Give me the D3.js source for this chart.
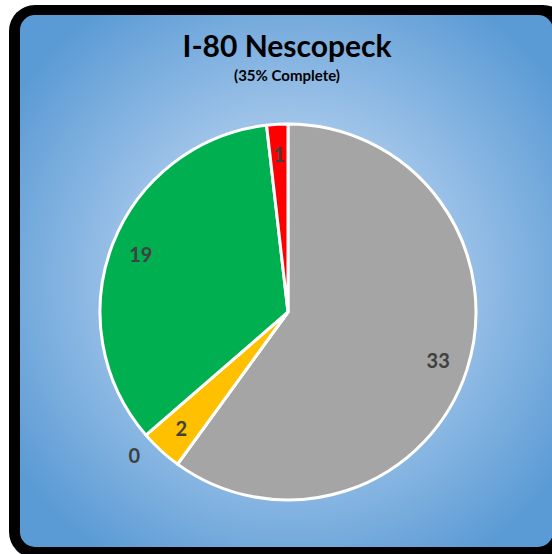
<!DOCTYPE html>
<html>
<head>
<meta charset="utf-8">
<script src="https://cdn.jsdelivr.net/npm/d3@7"></script>
<style>
  body { margin: 0; background: #ffffff; }
  svg { display: block; }
</style>
</head>
<body>
<script>
var categories = ["Not Started", "On Hold", "In Progress", "Complete", "Late"];
var values = [33, 0, 2, 19, 1];
var colors = ["#a5a5a5", "#5b9bd5", "#ffc000", "#00b050", "#ff0000"];

var width = 552;
var height = 554;

var svg = d3.select('body')
    .append('svg')
    .attr('width', width)
    .attr('height', height);

// background gradient
var defs = svg.append('defs');
var grad = defs.append('radialGradient')
    .attr('id', 'bg')
    .attr('gradientUnits', 'userSpaceOnUse')
    .attr('cx', 290)
    .attr('cy', 280)
    .attr('r', 330);
grad.append('stop').attr('offset', '0%').attr('stop-color', '#c9def3');
grad.append('stop').attr('offset', '45%').attr('stop-color', '#a3c6ea');
grad.append('stop').attr('offset', '100%').attr('stop-color', '#5b9bd5');

// frame (cropped at the right edge)
svg.append('rect')
    .attr('x', 9)
    .attr('y', 5)
    .attr('width', 560)
    .attr('height', 553)
    .attr('rx', 26)
    .attr('ry', 26)
    .attr('fill', '#000000');

svg.append('rect')
    .attr('x', 20)
    .attr('y', 15)
    .attr('width', 533)
    .attr('height', 532)
    .attr('rx', 15)
    .attr('ry', 15)
    .attr('fill', 'url(#bg)');

// titles
svg.append('text')
    .attr('x', 287)
    .attr('y', 57)
    .attr('text-anchor', 'middle')
    .attr('font-family', 'Lato')
    .attr('font-weight', 'bold')
    .attr('font-size', 30)
    .attr('fill', '#000000')
    .text('I-80 Nescopeck');

svg.append('text')
    .attr('x', 287)
    .attr('y', 81)
    .attr('text-anchor', 'middle')
    .attr('font-family', 'Lato')
    .attr('font-weight', 'bold')
    .attr('font-size', 15)
    .attr('fill', '#000000')
    .text('(35% Complete)');

// pie
var cx = 288, cy = 312, radius = 188;

var pie = d3.pie()
    .sort(null)
    .value(function (d) { return d; });

var arcs = pie(values);

var arc = d3.arc()
    .innerRadius(0)
    .outerRadius(radius);

var labelArc = d3.arc()
    .innerRadius(radius * 0.84)
    .outerRadius(radius * 0.84);

var outerArc = d3.arc()
    .innerRadius(radius * 1.12)
    .outerRadius(radius * 1.12);

var g = svg.append('g')
    .attr('transform', 'translate(' + cx + ',' + cy + ')');

g.selectAll('path')
    .data(arcs)
    .enter()
    .append('path')
    .attr('d', arc)
    .attr('fill', function (d, i) { return colors[i]; })
    .attr('stroke', '#ffffff')
    .attr('stroke-width', 3)
    .attr('stroke-linejoin', 'round');

g.selectAll('text.label')
    .data(arcs)
    .enter()
    .append('text')
    .attr('class', 'label')
    .attr('transform', function (d) {
        var p;
        if (d.data === 0) {
            // empty slice: label pushed outside, nudged away from its neighbour
            var a = d.startAngle + 0.19;
            p = outerArc.centroid({ startAngle: a, endAngle: a });
        } else {
            p = labelArc.centroid(d);
        }
        return 'translate(' + p[0] + ',' + p[1] + ')';
    })
    .attr('dy', '0.36em')
    .attr('text-anchor', 'middle')
    .attr('font-family', 'Lato')
    .attr('font-weight', 'bold')
    .attr('font-size', 20)
    .attr('fill', '#404040')
    .text(function (d) { return d.data; });
</script>
</body>
</html>
